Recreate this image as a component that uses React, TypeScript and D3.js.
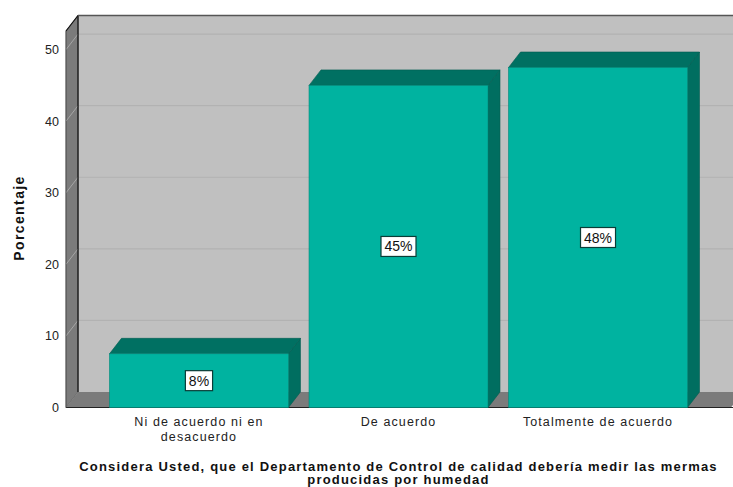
import React from "react";
import * as d3 from "d3";

const categories: string[][] = [
  ["Ni de acuerdo ni en", "desacuerdo"],
  ["De acuerdo"],
  ["Totalmente de acuerdo"],
];
const values: number[] = [7.5, 45, 47.5];
const valueLabels: string[] = ["8%", "45%", "48%"];
const yTicks: number[] = [0, 10, 20, 30, 40, 50];
const yTitle = "Porcentaje";
const xTitle: string[] = [
  "Considera Usted, que el Departamento de Control de calidad debería medir las mermas",
  "producidas por humedad",
];

const W = 733;
const H = 487;
const X0 = 66;
const X1 = 731;
const Y0 = 407.5;
const YTOP = 31;
const DX = 12;
const DY = -15.5;
const YMAX = 52.6;

export default function App() {
  const x = d3
    .scaleBand<number>()
    .domain(d3.range(values.length))
    .range([X0, X1])
    .paddingInner(0.103)
    .paddingOuter(0.218);
  const y = d3.scaleLinear().domain([0, YMAX]).range([Y0, YTOP]);
  const bw = x.bandwidth();
  const cx = (X0 + X1) / 2;
  const pts = (p: number[][]) => p.map((q) => q.join(",")).join(" ");
  const textW = (s: string) =>
    s.split("").reduce((a, c) => a + (c === "%" ? 12.4 : 7.8), 0);

  return (
    <div style={{ position: "fixed", left: 0, top: 0 }}>
      <svg width={W} height={H} style={{ display: "block", background: "#fff" }} fontFamily="Arial, 'Liberation Sans', sans-serif">
        {/* back wall */}
        <rect x={X0 + DX} y={YTOP + DY} width={X1 - X0} height={Y0 - YTOP} fill="#C0C0C0" />
        {yTicks.filter((t) => t > 0).map((t) => (
          <line key={"g" + t} x1={X0 + DX} x2={X1 + DX} y1={y(t) + DY} y2={y(t) + DY} stroke="#B2B2B2" strokeWidth={1.2} />
        ))}
        {/* left wall */}
        <polygon
          points={pts([[X0, YTOP], [X0 + DX, YTOP + DY], [X0 + DX, Y0 + DY], [X0, Y0]])}
          fill="#7B7B7B"
          stroke="#555"
          strokeWidth={0.8}
        />
        {yTicks.filter((t) => t > 0).map((t) => (
          <line key={"lg" + t} x1={X0} x2={X0 + DX} y1={y(t)} y2={y(t) + DY} stroke="#A6A6A6" strokeWidth={1} />
        ))}
        {/* floor */}
        <polygon
          points={pts([[X0, Y0], [X0 + DX, Y0 + DY], [X1 + DX, Y0 + DY], [X1, Y0]])}
          fill="#7B7B7B"
        />
        {/* edges */}
        <line x1={X0 + DX} x2={X0 + DX} y1={YTOP + DY} y2={Y0 + DY} stroke="#111" strokeWidth={1.2} />
        <line x1={X0} x2={X0 + DX} y1={YTOP} y2={YTOP + DY} stroke="#111" strokeWidth={1.2} />
        <line x1={X0 + DX} x2={X1 + DX} y1={YTOP + DY} y2={YTOP + DY} stroke="#555" strokeWidth={1.5} />
        <line x1={X0} x2={X1 + 20} y1={Y0} y2={Y0} stroke="#222" strokeWidth={1.2} />
        <line x1={X0} x2={X0} y1={YTOP} y2={Y0} stroke="#555" strokeWidth={0.8} />

        {/* bars */}
        {values.map((v, i) => {
          const xl = x(i)!;
          const xr = xl + bw;
          const yt = y(v);
          return (
            <g key={"b" + i}>
              <polygon
                points={pts([[xr, yt], [xr + DX, yt + DY], [xr + DX, Y0 + DY], [xr, Y0]])}
                fill="#006E60"
                stroke="#005C50"
                strokeWidth={0.6}
              />
              <polygon
                points={pts([[xl, yt], [xl + DX, yt + DY], [xr + DX, yt + DY], [xr, yt]])}
                fill="#007062"
                stroke="#005C50"
                strokeWidth={0.6}
              />
              <rect x={xl} y={yt} width={bw} height={Y0 - yt} fill="#00B3A0" stroke="#00897A" strokeWidth={0.6} />
            </g>
          );
        })}

        {/* value labels */}
        {values.map((v, i) => {
          const xm = x(i)! + bw / 2;
          const ym = y(v / 2);
          const lbl = valueLabels[i];
          const w = textW(lbl) + 7;
          return (
            <g key={"l" + i}>
              <rect x={xm - w / 2} y={ym - 10} width={w} height={20} fill="#fff" stroke="#0A3D37" strokeWidth={1.2} />
              <text x={xm} y={ym + 5} textAnchor="middle" fontSize={14} fill="#111">
                {lbl}
              </text>
            </g>
          );
        })}

        {/* y ticks */}
        {yTicks.map((t) => (
          <text key={"t" + t} x={59} y={y(t) + 4.5} textAnchor="end" fontSize={12.5} fill="#222">
            {t}
          </text>
        ))}

        {/* category labels */}
        {categories.map((lines, i) => (
          <text key={"c" + i} x={x(i)! + bw / 2} textAnchor="middle" fontSize={12.5} fill="#222" letterSpacing={1.1}>
            {lines.map((ln, j) => (
              <tspan key={j} x={x(i)! + bw / 2} y={426 + j * 14.5}>
                {ln}
              </tspan>
            ))}
          </text>
        ))}

        {/* axis titles */}
        <text
          transform={`translate(24,218) rotate(-90)`}
          textAnchor="middle"
          fontSize={14}
          fontWeight="bold"
          fill="#111"
          letterSpacing={1.4}
        >
          {yTitle}
        </text>
        <text textAnchor="middle" fontSize={13} fontWeight="bold" fill="#111" letterSpacing={1.2}>
          {xTitle.map((ln, j) => (
            <tspan key={j} x={cx} y={470.5 + j * 13.5}>
              {ln}
            </tspan>
          ))}
        </text>
      </svg>
    </div>
  );
}
